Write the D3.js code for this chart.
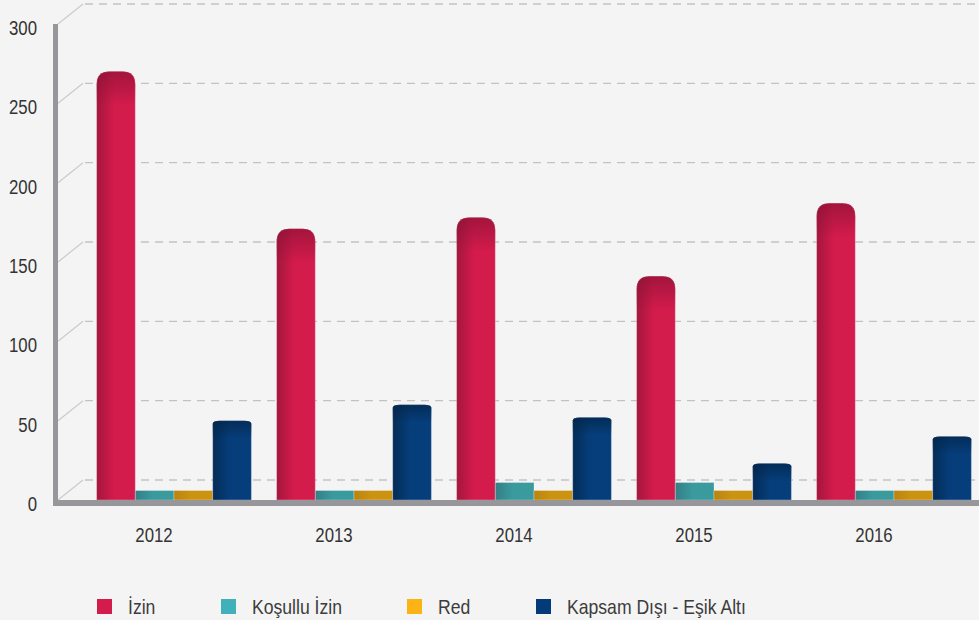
<!DOCTYPE html>
<html>
<head>
<meta charset="utf-8">
<script src="https://cdn.jsdelivr.net/npm/d3@7"></script>
<style>
  html, body { margin: 0; padding: 0; background: #f4f4f4; }
  svg { display: block; }
  text { font-family: "Liberation Sans", Arial, sans-serif; }
</style>
</head>
<body>
<svg id="chart"></svg>
<script>
// data
const years = ["2012", "2013", "2014", "2015", "2016"];
const series = ["İzin", "Koşullu İzin", "Red", "Kapsam Dışı - Eşik Altı"];
const izin = [270, 171, 178, 141, 187];
const kosullu = [6, 6, 11, 11, 6];
const red = [6, 6, 6, 6, 6];
const kapsam = [50, 60, 52, 23, 40];
const yTicks = [0, 50, 100, 150, 200, 250, 300];

const width = 979, height = 620;
const depth = { x: 25, y: 20 };   // back wall offset
const shift = 20;                  // bars sit a bit right of the labels
const narrow = 0.8;                // no narrow font installed, squeeze the text

const colors = {
  "İzin": { dark: "#a3163d", light: "#d31b4c", top: "#8e1236", legend: "#d31b4c" },
  "Koşullu İzin": { dark: "#347f86", light: "#3a9a9d", top: "#2f7c80", legend: "#40b1b8" },
  "Red": { dark: "#b98410", light: "#cc9312", top: "#b07e0e", legend: "#fbb316" },
  "Kapsam Dışı - Eşik Altı": { dark: "#042c57", light: "#063e7b", top: "#032549", legend: "#023b78" }
};
const values = { "İzin": izin, "Koşullu İzin": kosullu, "Red": red, "Kapsam Dışı - Eşik Altı": kapsam };
const corner = { "İzin": [13, 13], "Koşullu İzin": [0, 0], "Red": [0, 0], "Kapsam Dışı - Eşik Altı": [7, 3] };

const svg = d3.select("#chart").attr("width", width).attr("height", height);

const y = d3.scaleLinear().domain([0, 300]).range([500, 24]);
const x = d3.scaleBand().domain(years).range([84, 984]).paddingInner(0.14).paddingOuter(0.07);
const xs = d3.scaleBand().domain(series).range([0, x.bandwidth()]);

// gradients
const defs = svg.append("defs");
series.forEach((s, i) => {
  const g = defs.append("linearGradient").attr("id", "g" + i).attr("x1", 0).attr("x2", 1).attr("y1", 0).attr("y2", 0);
  g.append("stop").attr("offset", 0).attr("stop-color", colors[s].dark);
  g.append("stop").attr("offset", 0.45).attr("stop-color", colors[s].light);
  g.append("stop").attr("offset", 1).attr("stop-color", colors[s].light);
  const t = defs.append("linearGradient").attr("id", "t" + i).attr("x1", 0).attr("x2", 0).attr("y1", 0).attr("y2", 1);
  t.append("stop").attr("offset", 0).attr("stop-color", colors[s].top).attr("stop-opacity", 0.7);
  t.append("stop").attr("offset", 1).attr("stop-color", colors[s].top).attr("stop-opacity", 0);
});

// back grid
const grid = svg.append("g");
grid.selectAll("line.dash")
  .data(yTicks)
  .join("line")
  .attr("class", "dash")
  .attr("x1", 58 + depth.x + 2).attr("x2", width)
  .attr("y1", (d) => y(d) - depth.y).attr("y2", (d) => y(d) - depth.y)
  .attr("stroke", "#c2c2c2").attr("stroke-width", 1.3)
  .attr("stroke-dasharray", "8,6");
grid.selectAll("line.diag")
  .data(yTicks)
  .join("line")
  .attr("class", "diag")
  .attr("x1", 58).attr("x2", 58 + depth.x)
  .attr("y1", (d) => y(d)).attr("y2", (d) => y(d) - depth.y)
  .attr("stroke", "#cbcbcb").attr("stroke-width", 1.2);

function topShape(x0, y0, w, h, rx, ry) {
  rx = Math.min(rx, w / 2);
  ry = Math.min(ry, h);
  const p = d3.path();
  p.moveTo(x0, y0 + h);
  p.lineTo(x0, y0 + ry);
  if (rx > 0) p.quadraticCurveTo(x0, y0, x0 + rx, y0); else p.lineTo(x0, y0);
  p.lineTo(x0 + w - rx, y0);
  if (rx > 0) p.quadraticCurveTo(x0 + w, y0, x0 + w, y0 + ry); else p.lineTo(x0 + w, y0);
  p.lineTo(x0 + w, y0 + h);
  p.closePath();
  return p.toString();
}

// bars
const bars = svg.append("g");
years.forEach((yr, j) => {
  series.forEach((s, i) => {
    const v = values[s][j];
    const bx = x(yr) + xs(s);
    const by = y(v);
    const bw = xs.bandwidth();
    const bh = y(0) - by;
    const [rx, ry] = corner[s];
    bars.append("path")
      .attr("d", topShape(bx, by, bw, bh, rx, ry))
      .attr("fill", `url(#g${i})`)
      .attr("stroke", "rgba(255,255,255,0.35)").attr("stroke-width", 0.8);
    if (rx > 0) {
      bars.append("path")
        .attr("d", topShape(bx, by, bw, Math.min(s === "İzin" ? 34 : 18, bh), rx, ry))
        .attr("fill", `url(#t${i})`);
    }
  });
});

// axis frame
svg.append("rect").attr("x", 53).attr("y", y(300)).attr("width", 5).attr("height", y(0) + 6 - y(300)).attr("fill", "#97979b");
svg.append("rect").attr("x", 53).attr("y", y(0)).attr("width", width - 53).attr("height", 6).attr("fill", "#97979b");

// y tick labels
svg.append("g").selectAll("text")
  .data(yTicks)
  .join("text")
  .attr("transform", (d) => `translate(37, ${y(d) + 11}) scale(${narrow}, 1)`)
  .attr("text-anchor", "end")
  .attr("font-size", 21).attr("fill", "#333")
  .text((d) => d);

// year labels
svg.append("g").selectAll("text")
  .data(years)
  .join("text")
  .attr("transform", (d) => `translate(${x(d) + x.bandwidth() / 2 - shift}, 542) scale(${narrow}, 1)`)
  .attr("text-anchor", "middle")
  .attr("font-size", 21).attr("fill", "#333")
  .text((d) => d);

// legend
const legendX = [97, 221, 407, 536];
const legend = svg.append("g").selectAll("g")
  .data(series)
  .join("g")
  .attr("transform", (d, i) => `translate(${legendX[i]}, 599)`);
legend.append("rect").attr("width", 15).attr("height", 15).attr("fill", (d) => colors[d].legend);
legend.append("text")
  .attr("transform", `translate(31, 15) scale(0.88, 1)`)
  .attr("font-size", 20).attr("fill", "#3c3c3c").text((d) => d);
</script>
</body>
</html>
